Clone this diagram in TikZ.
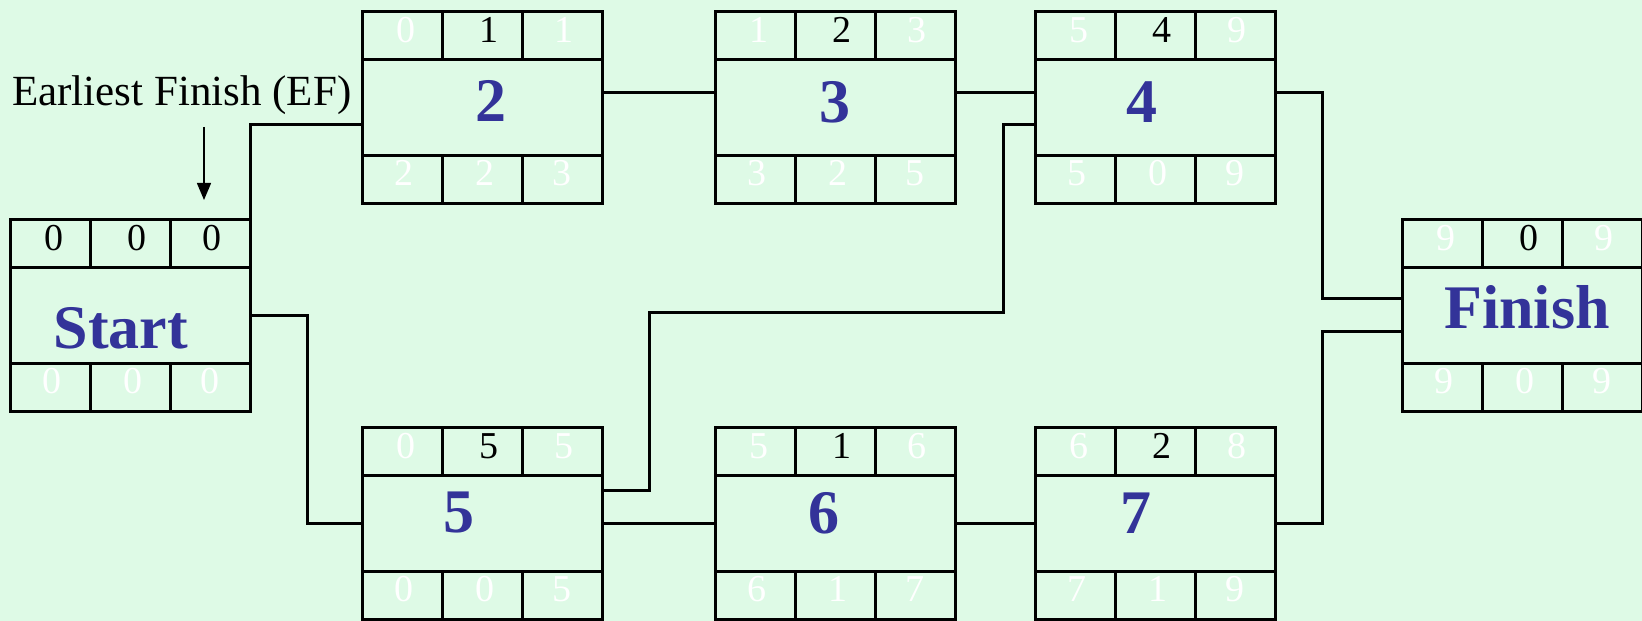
\documentclass[tikz,border=0pt]{standalone}
\usepackage{fontspec}
\setmainfont{Liberation Serif}
\usetikzlibrary{arrows.meta, positioning, calc}
\definecolor{PertBlue}{RGB}{51,51,153}
\definecolor{MintBg}{RGB}{222,250,230}

\begin{document}
\begin{tikzpicture}[x=1pt, y=1pt,
    boxline/.style={line width=3pt},
    actbox/.style={draw, boxline, rectangle, minimum width=240pt, minimum height=192pt, inner sep=0pt, outer sep=0pt},
    num/.style={inner sep=0pt, anchor=base, font=\fontsize{38}{40}\selectfont},
    actlbl/.style={inner sep=0pt, anchor=base, text=PertBlue, font=\fontsize{62}{64}\selectfont\bfseries}]

    % Background
    \fill[MintBg] (0,0) rectangle (1642,621);
    \useasboundingbox (0,0) rectangle (1642,621);

    % Activity boxes: ES / duration / EF on top, LS / slack / LF below
    \foreach \n/\x/\y/\tc/\es/\du/\ef/\ls/\sl/\lf in {
        st/130/305/black/0/0/0/0/0/0,
        n2/482/513/white/0/1/1/2/2/3,
        n3/835/513/white/1/2/3/3/2/5,
        n4/1155/513/white/5/4/9/5/0/9,
        n5/482/97/white/0/5/5/0/0/5,
        n6/835/97/white/5/1/6/6/1/7,
        n7/1155/97/white/6/2/8/7/1/9,
        fn/1522/305/white/9/0/9/9/0/9} {
        \node[actbox] (\n) at (\x,\y) {};
        \draw[boxline] (\x-120,\y+48) -- (\x+120,\y+48);
        \draw[boxline] (\x-120,\y-48) -- (\x+120,\y-48);
        \draw[boxline] (\x-40,\y+48) -- (\x-40,\y+96) (\x+40,\y+48) -- (\x+40,\y+96);
        \draw[boxline] (\x-40,\y-48) -- (\x-40,\y-96) (\x+40,\y-48) -- (\x+40,\y-96);
        \node[num, text=\tc] (\n-es) at (\x-76,\y+65) {\es};
        \node[num] (\n-du) at (\x+7,\y+65) {\du};
        \node[num, text=\tc] (\n-ef) at (\x+82,\y+65) {\ef};
        \node[num, text=white] (\n-ls) at (\x-78,\y-78) {\ls};
        \node[num, text=white] (\n-sl) at (\x+3,\y-78) {\sl};
        \node[num, text=white] (\n-lf) at (\x+80,\y-78) {\lf};
    }

    % Activity names
    \node[actlbl] (st-lbl) at (121,272) {Start};
    \node[actlbl] (n2-lbl) at (491,499) {2};
    \node[actlbl] (n3-lbl) at (835,498) {3};
    \node[actlbl] (n4-lbl) at (1142,498) {4};
    \node[actlbl] (n5-lbl) at (459,88) {5};
    \node[actlbl] (n6-lbl) at (824,87) {6};
    \node[actlbl] (n7-lbl) at (1136,87) {7};
    \node[actlbl] (fn-lbl) at (1527,292) {Finish};

    % Connectors
    \draw[boxline] (st.east) |- ([yshift=-17pt]n2.west);
    \draw[boxline] (st.east) -- ++(57,0) |- (n5.west);
    \draw[boxline] ([yshift=15pt]n2.east) -- ([yshift=15pt]n3.west);
    \draw[boxline] ([yshift=15pt]n3.east) -- ([yshift=15pt]n4.west);
    \draw[boxline] ([yshift=33pt]n5.east) -- ++(47,0) -- ++(0,178) -- ++(354,0) |- ([yshift=-17pt]n4.west);
    \draw[boxline] (n5.east) -- (n6.west);
    \draw[boxline] (n6.east) -- (n7.west);
    \draw[boxline] ([yshift=15pt]n4.east) -- ++(47,0) |- ([yshift=17pt]fn.west);
    \draw[boxline] (n7.east) -- ++(47,0) |- ([yshift=-16pt]fn.west);

    % Earliest finish pointer
    \node[inner sep=0pt, anchor=west, font=\fontsize{43}{45}\selectfont] (eflbl) at (12,526) {Earliest Finish (EF)};
    \coordinate (efTop) at (204,494);
    \coordinate (efTip) at (204,421);
    \draw[line width=1.5pt, -{Triangle[length=17pt, width=14pt]}] (efTop) -- (efTip);
\end{tikzpicture}
\end{document}
